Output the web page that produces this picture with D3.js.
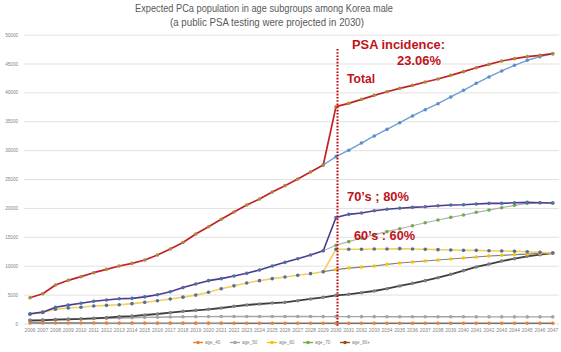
<!DOCTYPE html>
<html>
<head>
<meta charset="utf-8">
<script src="https://cdn.jsdelivr.net/npm/d3@7"></script>
<style>
  html, body { margin: 0; padding: 0; background: #fff; }
  svg { display: block; font-family: "Liberation Sans", "DejaVu Sans", sans-serif; }
</style>
</head>
<body>
<svg id="chart" width="561" height="352"></svg>
<script>
// ---------------- DATA ----------------
const years = [2006,2007,2008,2009,2010,2011,2012,2013,2014,2015,2016,2017,2018,2019,2020,2021,2022,2023,2024,2025,2026,
  2027,2028,2029,2030,2031,2032,2033,2034,2035,2036,2037,2038,2039,2040,2041,2042,2043,2044,2045,2046,2047];
const yTicks = [0,5000,10000,15000,20000,25000,30000,35000,40000,45000,50000];

// Total with public PSA testing from 2030
const totalPSA = [4550,5240,6750,7560,8190,8880,9460,10040,10500,11080,11940,12980,14100,15580,16840,18120,19380,20590,21630,22840,23940,
  25090,26300,27520,37610,38190,38880,39570,40200,40780,41300,41880,42400,43040,43670,44360,44940,45520,45920,46270,46500,46780];
// Total without PSA (baseline projection)
const totalBase = [null,null,null,null,null,null,null,null,null,null,null,null,null,null,null,null,null,null,null,null,null,
  null,null,27520,28960,30080,31320,32540,33690,34840,36000,37090,38130,39290,40450,41660,42750,43790,44770,45640,46270,46780];
// age 70s with PSA
const age70PSA = [1760,2050,2900,3260,3580,3950,4150,4380,4440,4700,5050,5570,6300,6920,7500,7850,8310,8770,9350,10040,10670,
  11300,11940,12690,18430,18980,19210,19610,19850,20020,20190,20300,20470,20590,20650,20770,20880,20880,20990,21050,20990,20940];
// age 70s baseline
const age70Base = [null,null,null,null,null,null,null,null,null,null,null,null,null,null,null,null,null,null,null,null,null,
  null,null,12690,13640,14250,14880,15460,15980,16490,17010,17530,18000,18460,18860,19330,19720,20130,20540,20880,20990,20940];
// age 60s with PSA
const age60PSA = [1700,2010,2540,2770,2890,3120,3230,3340,3520,3750,4030,4330,4650,5000,5500,6100,6600,7100,7500,7850,8130,
  8430,8710,9050,12930,12930,12930,12980,12980,13040,12980,12930,12870,12810,12750,12750,12690,12630,12580,12510,12400,12290];
// age 60s baseline
const age60Base = [null,null,null,null,null,null,null,null,null,null,null,null,null,null,null,null,null,null,null,null,null,
  null,null,9050,9420,9680,9850,10040,10330,10560,10730,10900,11080,11250,11420,11600,11770,11890,11990,12110,12230,12290];
// age 80+
const age80 = [580,640,750,810,870,990,1100,1270,1380,1560,1730,1960,2200,2350,2540,2770,3060,3290,3460,3630,3750,
  4030,4330,4620,4950,5140,5420,5710,6110,6580,7040,7500,8010,8600,9230,9870,10380,10900,11300,11720,11990,12290];
// age 50s
const age50 = [700,740,790,840,890,940,990,1040,1090,1140,1180,1220,1250,1270,1280,1290,1300,1300,1300,1300,1300,
  1290,1290,1280,1280,1270,1270,1270,1260,1260,1260,1250,1250,1250,1250,1240,1240,1240,1240,1230,1230,1230];
// age 40s
const age40 = [180,175,170,170,165,165,160,160,155,155,150,150,150,145,145,145,140,140,140,135,135,
  135,130,130,130,130,125,125,125,125,125,120,120,120,120,120,120,120,120,120,120,120];

const legendNames = ["age_40","age_50","age_60","age_70","age_80+"];
const legendColors = ["#ed7d31","#a5a5a5","#ffc000","#70ad47","#9e480e"];

const titleLines = ["Expected PCa population in age subgroups among Korea male",
                    "(a public PSA testing were projected in 2030)"];

// ---------------- CHART ----------------
const svg = d3.select("#chart");
const x = d3.scalePoint().domain(years).range([30, 552.75]);
const y = d3.scaleLinear().domain([0, 50000]).range([324, 35.1]);

// gridlines
svg.append("g").selectAll("line").data(yTicks).join("line")
  .attr("x1", 24).attr("x2", 559)
  .attr("y1", d => y(d)).attr("y2", d => y(d))
  .attr("stroke", "#d9d9d9").attr("stroke-width", 0.8);

// y axis labels
svg.append("g").selectAll("text").data(yTicks).join("text")
  .attr("x", 18).attr("y", d => y(d) + 1.6)
  .attr("text-anchor", "end")
  .attr("font-size", 4.6).attr("fill", "#7f7f7f")
  .text(d => d);

// x axis labels
svg.append("g").selectAll("text").data(years).join("text")
  .attr("x", d => x(d)).attr("y", 332)
  .attr("text-anchor", "middle")
  .attr("font-size", 4.9).attr("fill", "#7f7f7f")
  .text(d => d);

// series definitions (drawing order bottom -> top)
const series = [
  {data: age40,     line: "#7a6f6a", marker: "#ed7d31", w: 1.4},
  {data: age50,     line: "#a5a5a5", marker: "#a5a5a5", w: 1.4},
  {data: age80,     line: "#3f3f3f", marker: "#7f7f7f", w: 1.8},
  {data: age60Base, line: "#7f7f7f", marker: "#ffc000", w: 1.2},
  {data: age60PSA,  line: "#f5cf5c", marker: "#4f6f9f", w: 1.6},
  {data: age70Base, line: "#b0b0b0", marker: "#70ad47", w: 1.2},
  {data: age70PSA,  line: "#4b3a8e", marker: "#4f6f9f", w: 1.6},
  {data: totalBase, line: "#6f9fd3", marker: "#5b8fcf", w: 1.4},
  {data: totalPSA,  line: "#c42027", marker: "#a88b3a", w: 1.7}
];

const lineGen = d3.line()
  .defined(d => d.v != null)
  .x(d => x(d.year))
  .y(d => y(d.v));

series.forEach(s => {
  const pts = years.map((yr, i) => ({year: yr, v: s.data[i]}));
  const g = svg.append("g");
  g.append("path").datum(pts)
    .attr("fill", "none").attr("stroke", s.line)
    .attr("stroke-width", s.w).attr("stroke-linejoin", "round")
    .attr("d", lineGen);
  g.selectAll("circle").data(pts.filter(d => d.v != null)).join("circle")
    .attr("cx", d => x(d.year)).attr("cy", d => y(d.v))
    .attr("r", 1.8).attr("fill", s.marker);
});

// dotted vertical line at 2030
svg.append("line")
  .attr("x1", x(2030) + 1.5).attr("x2", x(2030) + 1.5)
  .attr("y1", 49).attr("y2", 327)
  .attr("stroke", "#c00000").attr("stroke-width", 2)
  .attr("stroke-dasharray", "1.6,1.6");

// annotations
const ann = [
  {t: "PSA incidence:", x: 352, y: 48.5, w: 93},
  {t: "23.06%", x: 397, y: 64.5, w: 44},
  {t: "Total", x: 347, y: 82.5, w: 28},
  {t: "70\u2019s ; 80%", x: 347, y: 200.5, w: 62},
  {t: "60\u2019s : 60%", x: 354, y: 240, w: 61}
];
svg.append("g").selectAll("text").data(ann).join("text")
  .attr("x", d => d.x).attr("y", d => d.y)
  .attr("font-size", 12).attr("font-weight", "bold")
  .attr("fill", "#c0131b")
  .attr("textLength", d => d.w).attr("lengthAdjust", "spacingAndGlyphs")
  .text(d => d.t);

// title
svg.append("text").attr("x", 264).attr("y", 12).attr("text-anchor", "middle")
  .attr("font-size", 10.4).attr("fill", "#595959")
  .attr("textLength", 258).attr("lengthAdjust", "spacingAndGlyphs")
  .text(titleLines[0]);
svg.append("text").attr("x", 267).attr("y", 25.5).attr("text-anchor", "middle")
  .attr("font-size", 10.4).attr("fill", "#595959")
  .attr("textLength", 194).attr("lengthAdjust", "spacingAndGlyphs")
  .text(titleLines[1]);

// legend
const legendX = [193, 230, 267, 303, 340];
const lg = svg.append("g").selectAll("g").data(legendNames).join("g")
  .attr("transform", (d, i) => `translate(${legendX[i]},342.5)`);
lg.append("line").attr("x1", 0).attr("x2", 10).attr("y1", 0).attr("y2", 0)
  .attr("stroke", (d, i) => legendColors[i]).attr("stroke-width", 1.4);
lg.append("circle").attr("cx", 5).attr("cy", 0).attr("r", 1.8)
  .attr("fill", (d, i) => legendColors[i]);
lg.append("text").attr("x", 12).attr("y", 1.6)
  .attr("font-size", 4.6).attr("fill", "#7f7f7f")
  .text(d => d);
</script>
</body>
</html>
